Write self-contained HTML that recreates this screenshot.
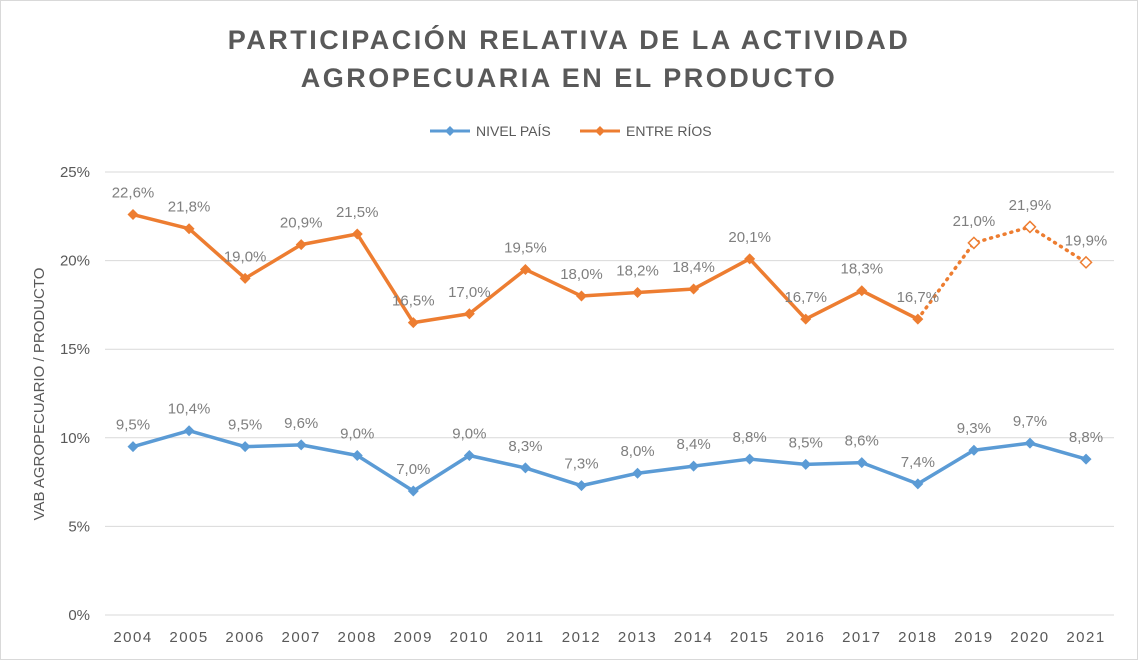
<!DOCTYPE html>
<html><head><meta charset="utf-8"><style>
html,body{margin:0;padding:0;background:#fff;}
svg{display:block;font-family:"Liberation Sans",sans-serif;}
</style></head><body>
<svg id="c" width="1138" height="660" viewBox="0 0 1138 660">
<rect x="0.5" y="0.5" width="1137" height="659" fill="#fff" stroke="#d9d9d9"/>
<text x="569" y="49" text-anchor="middle" font-size="27" font-weight="bold" fill="#595959" letter-spacing="2.5">PARTICIPACIÓN  RELATIVA  DE LA  ACTIVIDAD</text>
<text x="569" y="87" text-anchor="middle" font-size="27" font-weight="bold" fill="#595959" letter-spacing="2.5">AGROPECUARIA  EN  EL  PRODUCTO</text>
<line x1="430" y1="131" x2="470" y2="131" stroke="#5b9bd5" stroke-width="3"/>
<path d="M450 126 L455 131 L450 136 L445 131Z" fill="#5b9bd5"/>
<text x="476" y="136" font-size="14" fill="#595959">NIVEL PAÍS</text>
<line x1="580" y1="131" x2="620" y2="131" stroke="#ed7d31" stroke-width="3"/>
<path d="M600 126 L605 131 L600 136 L595 131Z" fill="#ed7d31"/>
<text x="626" y="136" font-size="14" fill="#595959">ENTRE RÍOS</text>
<text transform="translate(44,394) rotate(-90)" text-anchor="middle" font-size="15" fill="#595959">VAB AGROPECUARIO / PRODUCTO</text>
<g id="g"></g>
</svg>
<script>
var g=document.getElementById('g'),h='';
function y(v){return 615-v*17.72;}
function x(i){return 133+i*56.06;}
for(var k=0;k<=5;k++){var yy=y(k*5);
h+='<line x1="105" x2="1114" y1="'+yy+'" y2="'+yy+'" stroke="#d9d9d9" stroke-width="1"/>';
h+='<text x="90" y="'+(yy+5)+'" text-anchor="end" font-size="15" fill="#595959">'+(k*5)+'%</text>';}
for(var i=0;i<18;i++){h+='<text x="'+x(i)+'" y="642" text-anchor="middle" font-size="15" letter-spacing="1.5" fill="#595959">'+(2004+i)+'</text>';}
var o=[22.6,21.8,19.0,20.9,21.5,16.5,17.0,19.5,18.0,18.2,18.4,20.1,16.7,18.3,16.7,21.0,21.9,19.9];
var b=[9.5,10.4,9.5,9.6,9.0,7.0,9.0,8.3,7.3,8.0,8.4,8.8,8.5,8.6,7.4,9.3,9.7,8.8];
function pts(a,s,e){var p=[];for(var i=s;i<=e;i++)p.push(x(i)+','+y(a[i]));return p.join(' ');}
h+='<polyline points="'+pts(b,0,17)+'" fill="none" stroke="#5b9bd5" stroke-width="3.5" stroke-linejoin="round"/>';
h+='<polyline points="'+pts(o,0,14)+'" fill="none" stroke="#ed7d31" stroke-width="3.5" stroke-linejoin="round"/>';
h+='<polyline points="'+pts(o,14,17)+'" fill="none" stroke="#ed7d31" stroke-width="3.5" stroke-dasharray="1,6" stroke-linecap="round"/>';
function dm(cx,cy,c,hol){return '<path d="M'+cx+' '+(cy-5.5)+' L'+(cx+5.5)+' '+cy+' L'+cx+' '+(cy+5.5)+' L'+(cx-5.5)+' '+cy+'Z" fill="'+(hol?'#fff':c)+'" stroke="'+c+'" stroke-width="'+(hol?1.5:0)+'"/>';}
function lab(v){return v.toFixed(1).replace('.',',')+'%';}
for(var i=0;i<18;i++){
h+=dm(x(i),y(b[i]),'#5b9bd5',false);
h+=dm(x(i),y(o[i]),'#ed7d31',i>14);
h+='<text x="'+x(i)+'" y="'+(y(b[i])-17)+'" text-anchor="middle" font-size="15" fill="#7f7f7f">'+lab(b[i])+'</text>';
h+='<text x="'+x(i)+'" y="'+(y(o[i])-17)+'" text-anchor="middle" font-size="15" fill="#7f7f7f">'+lab(o[i])+'</text>';}
g.innerHTML=h;
</script>
</body></html>
